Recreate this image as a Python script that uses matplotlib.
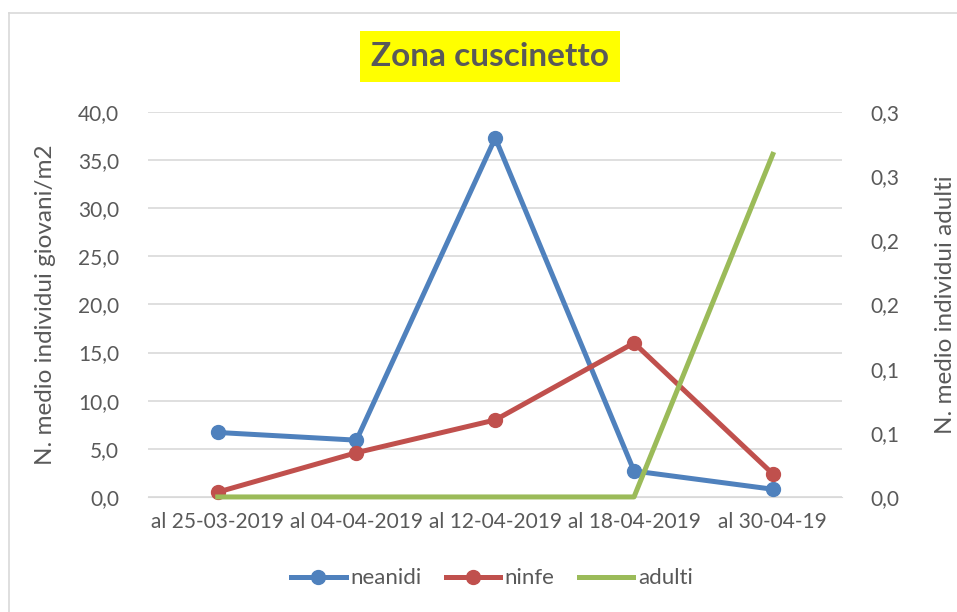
import matplotlib
matplotlib.use("Agg")
import matplotlib.pyplot as plt
from matplotlib.lines import Line2D

plt.rcParams['font.family'] = ['Lato', 'DejaVu Sans']

categorie = ["al 25-03-2019", "al 04-04-2019", "al 12-04-2019", "al 18-04-2019", "al 30-04-19"]
neanidi = [6.7, 5.9, 37.3, 2.7, 0.8]
ninfe = [0.5, 4.6, 8.0, 16.0, 2.4]
adulti = [0.0, 0.0, 0.0, 0.0, 0.267]

y_sx = [0, 5, 10, 15, 20, 25, 30, 35, 40]
y_sx_lab = ["0,0", "5,0", "10,0", "15,0", "20,0", "25,0", "30,0", "35,0", "40,0"]
y_dx = [0, 0.05, 0.10, 0.15, 0.20, 0.25, 0.30]
y_dx_lab = ["0,0", "0,1", "0,1", "0,2", "0,2", "0,3", "0,3"]

blu = "#4F81BD"
rosso = "#C0504D"
verde = "#9BBB59"
grigio = "#595959"

fig = plt.figure(figsize=(9.57, 6.12), dpi=100)
ax = fig.add_axes([0.155, 0.188, 0.725, 0.629])
ax2 = ax.twinx()

x = list(range(len(categorie)))
ax2.plot(x, adulti, color=verde, lw=3.6, zorder=3, clip_on=False)
ax.plot(x, neanidi, color=blu, lw=3.6, marker='o', ms=10, zorder=3, clip_on=False)
ax.plot(x, ninfe, color=rosso, lw=3.6, marker='o', ms=10, zorder=3, clip_on=False)

ax.set_xlim(-0.5, len(categorie) - 0.5)
ax.set_ylim(0, 40)
ax2.set_ylim(0, 0.3)
ax.set_yticks(y_sx)
ax.set_yticklabels(y_sx_lab)
ax2.set_yticks(y_dx)
ax2.set_yticklabels(y_dx_lab)
ax.set_xticks(x)
ax.set_xticklabels(categorie)

for a in (ax, ax2):
    for s in a.spines.values():
        s.set_visible(False)
    a.tick_params(length=0, colors=grigio, labelsize=15)
ax.spines['bottom'].set_visible(True)
ax.spines['bottom'].set_color("#D9D9D9")
ax.tick_params(axis='y', pad=21)
ax2.tick_params(axis='y', pad=20)
ax.tick_params(axis='x', pad=11)

ax.grid(axis='y', color="#D9D9D9", lw=1.2)
ax.set_axisbelow(True)

ax.set_ylabel("N. medio individui giovani/m2", color=grigio, fontsize=17.5, labelpad=16)
ax2.set_ylabel("N. medio individui adulti", color=grigio, fontsize=17.5, labelpad=26)

fig.text(0.512, 0.908, "Zona cuscinetto", ha='center', va='center', fontsize=24,
         fontweight='bold', color=grigio,
         bbox=dict(facecolor='#FFFF00', edgecolor='none', pad=8))

handles = [Line2D([], [], color=blu, lw=3.6, marker='o', ms=10),
           Line2D([], [], color=rosso, lw=3.6, marker='o', ms=10),
           Line2D([], [], color=verde, lw=3.6)]
leg = fig.legend(handles, ["neanidi", "ninfe", "adulti"], loc='center', bbox_to_anchor=(0.514, 0.055),
                 ncol=3, frameon=False, fontsize=16, handlelength=2.45, handletextpad=0.2,
                 columnspacing=1.1)
for t in leg.get_texts():
    t.set_color(grigio)

# cornice del grafico
fig.add_artist(Line2D([9 / 957, 9 / 957], [0, 1 - 13 / 612], color="#D9D9D9", lw=1.2))
fig.add_artist(Line2D([9 / 957, 1], [1 - 13 / 612, 1 - 13 / 612], color="#D9D9D9", lw=1.2))

fig.savefig("out.png", dpi=100)
